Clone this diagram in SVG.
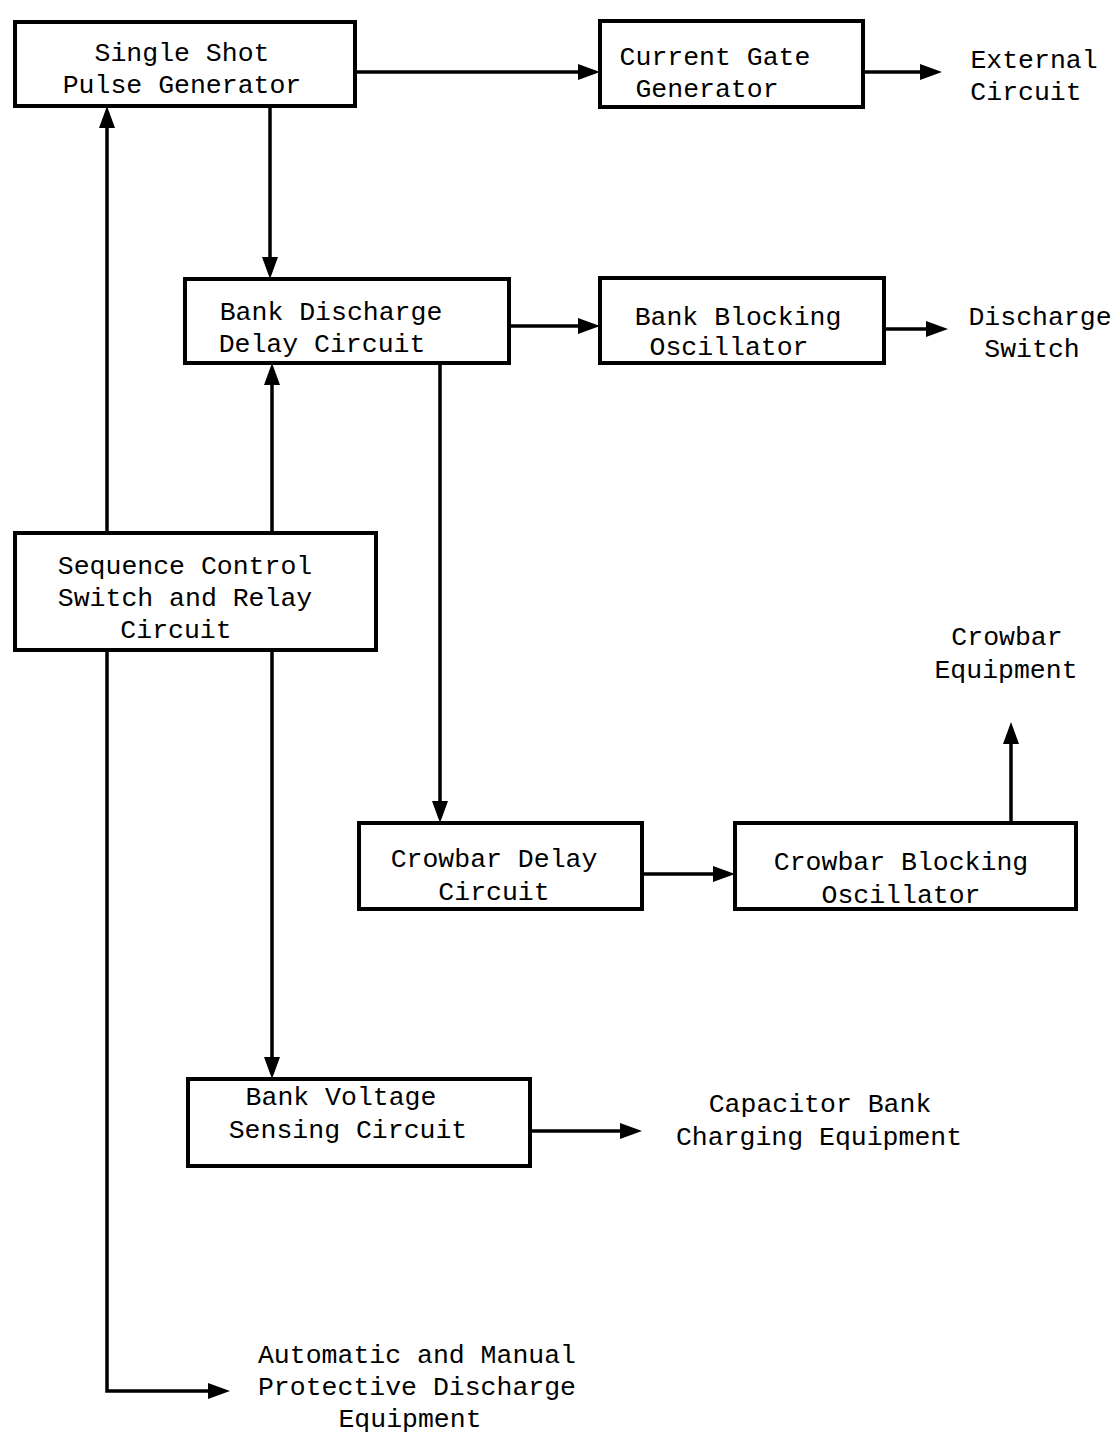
<svg xmlns="http://www.w3.org/2000/svg" width="1119" height="1448" viewBox="0 0 1119 1448">
<style>
.box{fill:#fff;stroke:#000;stroke-width:4}
.t{font-family:"Liberation Mono","DejaVu Sans Mono",monospace;font-size:26.5px;fill:#000;text-anchor:middle}
.c{fill:none;stroke:#000;stroke-width:3.5;marker-end:url(#ah)}
</style>
<defs>
<marker id="ah" markerUnits="userSpaceOnUse" markerWidth="24" markerHeight="18" refX="12" refY="9" orient="auto">
<path d="M0,1 L22,9 L0,17 z" fill="#000"/>
</marker>
</defs>
<rect width="1119" height="1448" fill="#fff"/>
<g id="connectors">
<line class="c" x1="355" y1="72" x2="590" y2="72"/>
<line class="c" x1="863" y1="72" x2="932" y2="72"/>
<line class="c" x1="270" y1="106" x2="270" y2="269"/>
<line class="c" x1="509" y1="326" x2="590" y2="326"/>
<line class="c" x1="884" y1="329" x2="938" y2="329"/>
<line class="c" x1="107" y1="533" x2="107" y2="116"/>
<line class="c" x1="272" y1="533" x2="272" y2="373"/>
<line class="c" x1="440" y1="363" x2="440" y2="813"/>
<line class="c" x1="642" y1="874" x2="725" y2="874"/>
<line class="c" x1="1011" y1="823" x2="1011" y2="732"/>
<line class="c" x1="272" y1="650" x2="272" y2="1069"/>
<line class="c" x1="530" y1="1131" x2="632" y2="1131"/>
<polyline class="c" points="107,650 107,1391 220,1391"/>
</g>
<g id="single-shot">
<rect class="box" x="15" y="22" width="340" height="84"/>
<text class="t" x="182" y="61">Single Shot</text>
<text class="t" x="182" y="93">Pulse Generator</text>
</g>
<g id="current-gate">
<rect class="box" x="600" y="21" width="263" height="86"/>
<text class="t" x="715" y="65">Current Gate</text>
<text class="t" x="707" y="97">Generator</text>
</g>
<g id="external-circuit">
<text class="t" x="1034" y="68">External</text>
<text class="t" x="1026" y="100">Circuit</text>
</g>
<g id="bank-discharge-delay">
<rect class="box" x="185" y="279" width="324" height="84"/>
<text class="t" x="331" y="320">Bank Discharge</text>
<text class="t" x="322" y="352">Delay Circuit</text>
</g>
<g id="bank-blocking">
<rect class="box" x="600" y="278" width="284" height="85"/>
<text class="t" x="738" y="325">Bank Blocking</text>
<text class="t" x="729" y="355">Oscillator</text>
</g>
<g id="discharge-switch">
<text class="t" x="1040" y="325">Discharge</text>
<text class="t" x="1032" y="357">Switch</text>
</g>
<g id="sequence-control">
<rect class="box" x="15" y="533" width="361" height="117"/>
<text class="t" x="185" y="574">Sequence Control</text>
<text class="t" x="185" y="606">Switch and Relay</text>
<text class="t" x="176" y="638">Circuit</text>
</g>
<g id="crowbar-equipment">
<text class="t" x="1007" y="645">Crowbar</text>
<text class="t" x="1006" y="678">Equipment</text>
</g>
<g id="crowbar-delay">
<rect class="box" x="359" y="823" width="283" height="86"/>
<text class="t" x="494" y="867">Crowbar Delay</text>
<text class="t" x="494" y="900">Circuit</text>
</g>
<g id="crowbar-blocking">
<rect class="box" x="735" y="823" width="341" height="86"/>
<text class="t" x="901" y="870">Crowbar Blocking</text>
<text class="t" x="901" y="903">Oscillator</text>
</g>
<g id="bank-voltage">
<rect class="box" x="188" y="1079" width="342" height="87"/>
<text class="t" x="341" y="1105">Bank Voltage</text>
<text class="t" x="348" y="1138">Sensing Circuit</text>
</g>
<g id="capacitor-bank">
<text class="t" x="820" y="1112">Capacitor Bank</text>
<text class="t" x="819" y="1145">Charging Equipment</text>
</g>
<g id="protective-discharge">
<text class="t" x="417" y="1363">Automatic and Manual</text>
<text class="t" x="417" y="1395">Protective Discharge</text>
<text class="t" x="410" y="1427">Equipment</text>
</g>
</svg>
